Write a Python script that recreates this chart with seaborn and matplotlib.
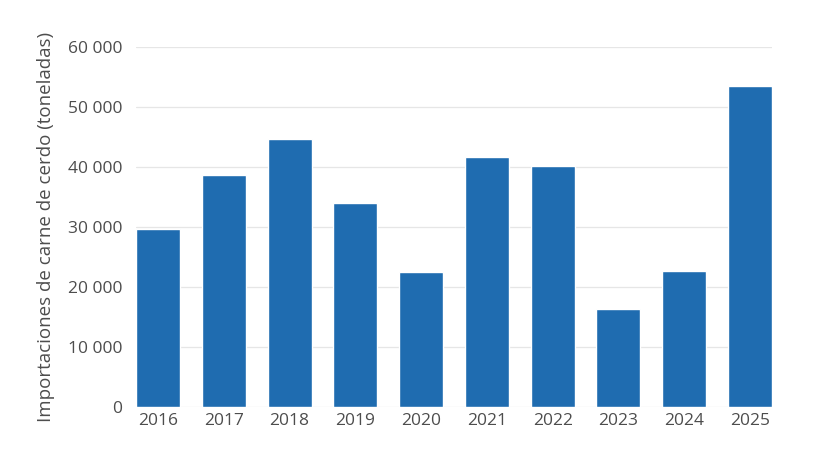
import matplotlib
matplotlib.use("Agg")
import matplotlib.pyplot as plt
import seaborn as sns
import pandas as pd
from matplotlib.ticker import FuncFormatter, MultipleLocator

years = ["2016", "2017", "2018", "2019", "2020", "2021", "2022", "2023", "2024", "2025"]
imports = [29700, 38700, 44600, 34000, 22500, 41700, 40200, 16400, 22700, 53500]

sns.set_theme(style="white")
plt.rcParams["font.family"] = ["Open Sans", "DejaVu Sans"]

df = pd.DataFrame({"year": years, "value": imports})

fig = plt.figure(figsize=(8.2, 4.61), dpi=100)
ax = fig.add_axes([136/820, 54/461, 636/820, 360/461])
sns.barplot(data=df, x="year", y="value", color="#1F6CB0", width=0.67,
            saturation=1, ax=ax, zorder=3)

ax.set_ylim(0, 60000)
ax.set_xlim(-0.335, 9.335)
ax.yaxis.set_major_locator(MultipleLocator(10000))
ax.yaxis.set_major_formatter(FuncFormatter(lambda v, p: f"{int(v):,}".replace(",", " ")))
ax.grid(axis="y", color="#e6e6e6", linewidth=0.9, zorder=0)
for s in ax.spines.values():
    s.set_visible(False)
ax.tick_params(axis="both", length=0, labelsize=12.5, colors="#4d4d4d")
ax.tick_params(axis="y", pad=10)
ax.tick_params(axis="x", pad=4)
ax.set_xlabel("")
ax.set_ylabel("Importaciones de carne de cerdo (toneladas)", fontsize=13.5,
              color="#4d4d4d", labelpad=9)

fig.savefig("out.png", dpi=100)
